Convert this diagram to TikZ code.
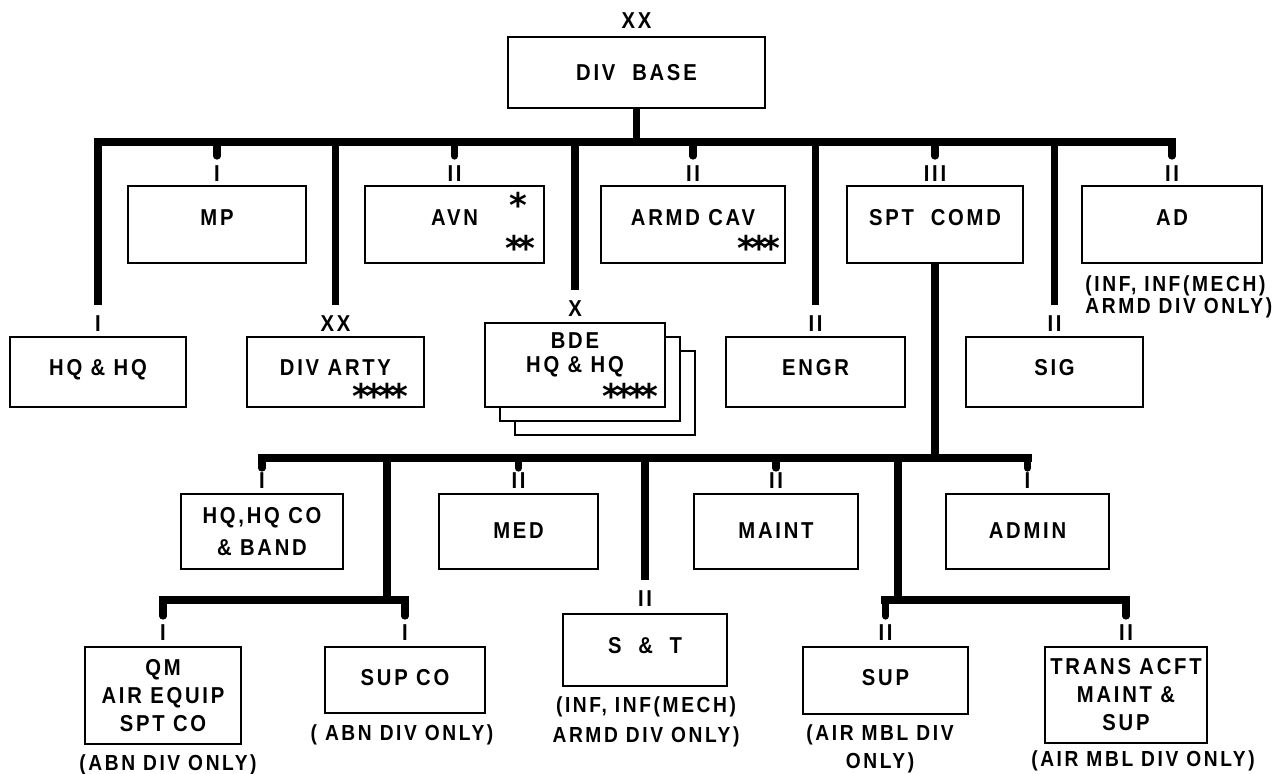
\documentclass[tikz,border=0pt]{standalone}
\usepackage{fontspec}
\usepackage{tikz}
\usetikzlibrary{positioning}
\newfontfamily\orgfont{Liberation Sans}[FakeStretch=0.88, LetterSpace=12]
\newfontfamily\starfont{DejaVu Sans}[LetterSpace=-15]
\newcommand{\unitfont}{\orgfont\bfseries\fontsize{11.5}{14}\selectfont}
\newcommand{\notefont}{\orgfont\bfseries\fontsize{10.9}{10}\selectfont}
\newcommand{\starsfont}{\starfont\bfseries\fontsize{17}{17}\selectfont}

\begin{document}
\begin{tikzpicture}[x=0.5pt, y=-0.5pt,
    unit/.style={draw, line width=1.3pt, fill=white, inner sep=0pt, align=center, font=\unitfont},
    oneline/.style={text height=8.4pt, text depth=#1},
    oneline/.default=0pt,
    echelon/.style={inner sep=0pt, font=\unitfont},
    note/.style={inner sep=0pt, align=center, font=\notefont},
    stars/.style={inner sep=0pt, anchor=base east, font=\starsfont},
    bus/.style={line width=4.2pt, line cap=rect},
    stem/.style={line width=3.6pt},
    tick/.style={line width=3.6pt, line cap=round}]

\useasboundingbox (0,0) rectangle (1288,773);

% Division base
\node[unit, oneline, minimum width=128.5pt, minimum height=35.5pt] (base) at (636.5,72.5) {DIV\ \ BASE};
\node[echelon, above=3.5pt of base] (base-ech) {XX};

% Upper row (hanging from the top bus)
\node[unit, oneline=7.5pt, minimum width=89pt, minimum height=38.5pt] (mp) at (217,224.5) {MP};
\node[unit, oneline=7.5pt, minimum width=89.5pt, minimum height=38.5pt] (avn) at (454.5,224.5) {AVN};
\node[unit, oneline=7.5pt, minimum width=92pt, minimum height=38.5pt] (cav) at (693,224.5) {ARMD CAV};
\node[unit, oneline=7.5pt, minimum width=88pt, minimum height=38.5pt] (spt) at (935,224.5) {SPT\ \ COMD};
\node[unit, oneline=7.5pt, minimum width=90pt, minimum height=38.5pt] (ad) at (1172,224.5) {AD};

\node[echelon, above=1.5pt of mp] (mp-ech) {I};
\node[echelon, above=1.5pt of avn] (avn-ech) {II};
\node[echelon, above=1.5pt of cav] (cav-ech) {II};
\node[echelon, above=1.5pt of spt] (spt-ech) {III};
\node[echelon, above=1.5pt of ad] (ad-ech) {II};

\node[stars] (avn-s1) at (528,217) {*};
\node[stars] (avn-s2) at (536,260) {**};
\node[stars] (cav-s) at (781,260) {***};

\node[note, align=left, anchor=north west] (ad-note) at (1085,275) {(INF, INF(MECH)\\ARMD DIV ONLY)};

% Second row (long stems)
\node[unit, oneline=5pt, minimum width=88pt, minimum height=35pt] (hq) at (98,372) {HQ \& HQ};
\node[unit, oneline=5pt, minimum width=88.5pt, minimum height=35pt] (arty) at (335.5,372) {DIV ARTY};
\draw[line width=1.3pt] (515,351) rectangle (695,435);
\draw[line width=1.3pt, fill=white] (500,337) rectangle (680,421);
\node[unit, minimum width=90pt, minimum height=42pt] (bde) at (575,365) {BDE\\[-2pt]HQ \& HQ\\[-2pt]\phantom{I}};
\node[unit, oneline=5pt, minimum width=89.5pt, minimum height=35pt] (engr) at (815.5,372) {ENGR};
\node[unit, oneline=5pt, minimum width=88.5pt, minimum height=35pt] (sig) at (1054.5,372) {SIG};

\node[echelon, above=2pt of hq] (hq-ech) {I};
\node[echelon, above=2pt of arty] (arty-ech) {XX};
\node[echelon, above=2.5pt of bde] (bde-ech) {X};
\node[echelon, above=2pt of engr] (engr-ech) {II};
\node[echelon, above=2pt of sig] (sig-ech) {II};

\node[stars] (arty-s) at (409,408) {****};
\node[stars] (bde-s) at (659,408) {****};

% Support command units
\node[unit, minimum width=81pt, minimum height=37.5pt] (hqco) at (262,531.5) {HQ,HQ CO\\[2pt]\& BAND};
\node[unit, oneline=1.5pt, minimum width=79.5pt, minimum height=37.5pt] (med) at (518.5,531.5) {MED};
\node[unit, oneline=1.5pt, minimum width=82pt, minimum height=37.5pt] (maint) at (776,531.5) {MAINT};
\node[unit, oneline=1.5pt, minimum width=81.5pt, minimum height=37.5pt] (admin) at (1027.5,531.5) {ADMIN};

\node[echelon, above=2pt of hqco] (hqco-ech) {I};
\node[echelon, above=2pt of med] (med-ech) {II};
\node[echelon, above=2pt of maint] (maint-ech) {II};
\node[echelon, above=2pt of admin] (admin-ech) {I};

% Bottom row
\node[unit, minimum width=78pt, minimum height=48.5pt] (qm) at (163,695.5) {QM\\AIR EQUIP\\SPT CO};
\node[unit, oneline=3pt, minimum width=80pt, minimum height=33pt] (supco) at (405,680) {SUP CO};
\node[unit, oneline=5pt, minimum width=82pt, minimum height=36pt] (st) at (645,650) {S\ \ \&\ \ T};
\node[unit, oneline=3.5pt, minimum width=82.5pt, minimum height=33.5pt] (sup) at (885.5,680.5) {SUP};
\node[unit, minimum width=81pt, minimum height=48pt] (trans) at (1126,695) {TRANS ACFT\\MAINT \&\\SUP};

\node[echelon, above=2.5pt of qm] (qm-ech) {I};
\node[echelon, above=2.5pt of supco] (supco-ech) {I};
\node[echelon, above=3pt of st] (st-ech) {II};
\node[echelon, above=2.5pt of sup] (sup-ech) {II};
\node[echelon, above=2.5pt of trans] (trans-ech) {II};

\node[note, anchor=north] (qm-note) at (168,754) {(ABN DIV ONLY)};
\node[note, anchor=north] (supco-note) at (402,724) {(\ ABN DIV ONLY)};
\node[note, anchor=north] (st-note) at (646,696) {(INF, INF(MECH)\\[4pt]ARMD DIV ONLY)};
\node[note, anchor=north] (sup-note) at (880,724) {(AIR MBL DIV\\[3pt]ONLY)};
\node[note, anchor=north] (trans-note) at (1143,750) {(AIR MBL DIV ONLY)};

% Buses and stems
\coordinate (busT) at (636,142);
\coordinate (busM) at (640,458);
\coordinate (junL) at (387,600);
\coordinate (junR) at (898,600);

\draw[stem] (base) -- (base |- busT);
\draw[bus] (hq |- busT) -- (ad |- busT);
\foreach \n in {mp,avn,cav,spt,ad}
    \draw[tick] (\n |- busT) -- ++(0,14);
\foreach \n in {hq,arty,bde,engr,sig}
    \draw[stem] (\n |- busT) -- ([yshift=5pt]\n-ech.north);

\draw[stem] (spt) -- (spt |- busM);
\draw[bus] (hqco |- busM) -- (admin |- busM);
\foreach \n in {hqco,med,maint,admin}
    \draw[tick] (\n |- busM) -- ++(0,10);

\draw[stem] (junL |- busM) -- (junL);
\draw[stem] (junR |- busM) -- (junR);
\draw[stem] (st |- busM) -- ([yshift=5pt]st-ech.north);
\draw[bus] (qm |- junL) -- (supco |- junL);
\draw[bus] (sup |- junR) -- (trans |- junR);
\foreach \n in {qm,supco}
    \draw[tick] (\n |- junL) -- ++(0,16);
\foreach \n in {sup,trans}
    \draw[tick] (\n |- junR) -- ++(0,16);

\end{tikzpicture}
\end{document}
